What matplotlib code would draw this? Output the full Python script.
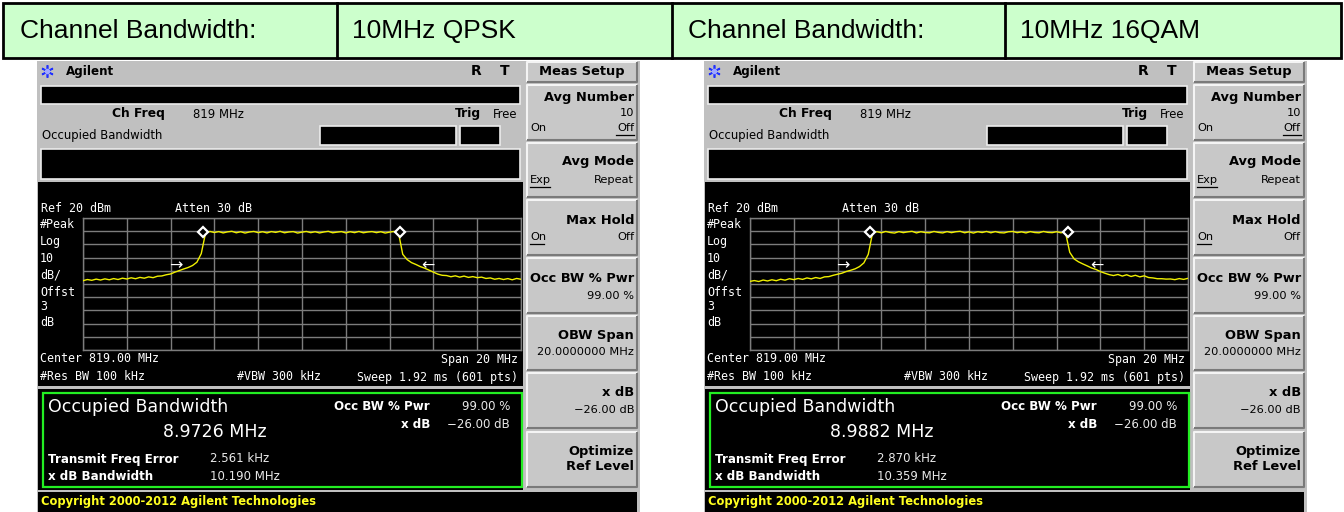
import matplotlib
matplotlib.use('Agg')
import matplotlib.pyplot as plt
from matplotlib.patches import Rectangle
import numpy as np

# ---------------- data ----------------
header_labels = ["Channel Bandwidth:", "Channel Bandwidth:"]
header_values = ["10MHz QPSK", "10MHz 16QAM"]
obw_values = ["8.9726 MHz", "8.9882 MHz"]
freq_errors = ["2.561 kHz", "2.870 kHz"]
xdb_bandwidths = ["10.190 MHz", "10.359 MHz"]

center_mhz = 819.0
span_mhz = 20.0
ref_level = 20
db_per_div = 10

# sweep frequencies (MHz), 0.2 MHz spacing
freqs = [809.0 + 0.2 * i for i in range(101)]

trace_qpsk = [
    -27.5, -26.6, -27.2, -26.3, -27.0, -26.1, -26.8, -25.9, -26.6, -25.6,
    -26.2, -25.3, -26.0, -25.0, -25.6, -24.6, -25.2, -24.1, -23.9, -23.0,
    -22.4, -21.0, -19.8, -18.6, -17.5, -16.0, -13.5, -7.0, 9.0, 9.8,
    9.0, 9.7, 8.7, 9.5, 9.9, 8.8, 9.6, 8.6, 9.4, 9.8,
    8.9, 9.6, 8.7, 9.7, 9.1, 9.9, 8.8, 9.4, 9.7, 8.6,
    9.3, 9.8, 8.9, 9.6, 8.7, 9.4, 9.9, 8.8, 9.3, 9.7,
    8.7, 9.6, 8.9, 9.8, 8.8, 9.4, 9.7, 8.9, 9.6, 8.6,
    9.3, 9.8, 9.3, -7.5, -11.5, -13.8, -15.2, -16.8, -18.0, -19.5,
    -21.0, -22.5, -23.4, -23.6, -24.5, -23.8, -24.8, -24.0, -25.0, -24.4,
    -25.2, -24.8, -25.8, -25.4, -26.4, -25.8, -26.6, -25.9, -26.8, -25.8,
    -26.4,
]
trace_16qam = [
    -28.0, -27.4, -28.1, -27.0, -27.7, -26.8, -27.5, -26.4, -27.1, -26.0,
    -26.7, -25.8, -26.5, -25.4, -26.1, -25.1, -25.8, -24.6, -24.4, -23.4,
    -22.6, -21.8, -20.5, -19.6, -18.5, -16.8, -14.0, -7.5, 9.0, 9.6,
    8.8, 9.8, 9.0, 8.6, 9.7, 8.9, 9.5, 9.9, 8.7, 9.6,
    9.0, 8.8, 9.8, 9.1, 8.7, 9.7, 8.9, 9.6, 9.9, 8.8,
    9.5, 8.6, 9.6, 9.0, 9.8, 8.8, 9.7, 8.9, 8.7, 9.6,
    9.8, 8.9, 9.5, 8.7, 9.7, 9.0, 8.8, 9.8, 9.1, 8.9,
    9.6, 8.8, 9.5, -6.0, -11.0, -13.2, -14.8, -16.3, -17.9, -19.0,
    -20.6, -21.8, -22.9, -23.6, -22.8, -24.0, -23.0, -24.3, -23.4, -24.6,
    -23.8, -25.1, -25.4, -26.0, -26.0, -26.3, -26.2, -26.7, -25.9, -26.5,
    -25.7,
]
traces = [trace_qpsk, trace_16qam]
marker_freqs = [[814.48, 823.47], [814.49, 823.52]]
marker_level = 9.5
arrow_freqs = [[813.25, 824.75], [813.25, 824.85]]
arrow_level = -16.0

# ---------------- figure ----------------
W, H = 1344, 512
fig = plt.figure(figsize=(W / 100, H / 100), dpi=100)
fig.patch.set_facecolor('white')
ax = fig.add_axes([0, 0, 1, 1])
ax.set_xlim(0, W)
ax.set_ylim(H, 0)
ax.axis('off')

GRAY = '#c0c0c0'
BTN = '#c8c8c8'


def rect(x0, y0, x1, y1, fc, ec='none', lw=0.0, z=1):
    ax.add_patch(Rectangle((x0, y0), x1 - x0, y1 - y0, facecolor=fc,
                           edgecolor=ec, linewidth=lw, zorder=z))


def txt(x, y, s, size=8.4, color='black', ha='left', weight='normal',
        family='DejaVu Sans', z=6):
    ax.text(x, y, s, fontsize=size, color=color, ha=ha, va='center',
            fontweight=weight, family=family, zorder=z)


def bevel(x0, y0, x1, y1, z=2):
    rect(x0, y0, x1, y1, BTN, z=z)
    ax.plot([x0, x0, x1], [y1, y0, y0], color='#f4f4f4', lw=1.5, zorder=z + 0.1,
            solid_capstyle='butt')
    ax.plot([x0, x1, x1], [y1, y1, y0], color='#7a7a7a', lw=1.5, zorder=z + 0.1,
            solid_capstyle='butt')


def uline(x0, x1, y):
    ax.plot([x0, x1], [y, y], color='black', lw=0.9, zorder=6)


# ---------------- header table ----------------
rect(3, 3, 1341, 58, '#ccffcc', ec='black', lw=2.0, z=2)
for xv in [337, 672, 1005]:
    ax.plot([xv, xv], [3, 58], color='black', lw=2.0, zorder=3)
hx = [(20, 352), (688, 1020)]
for k in range(2):
    txt(hx[k][0], 31, header_labels[k], size=19, family='Liberation Sans')
    txt(hx[k][1], 31, header_values[k], size=19, family='Liberation Sans')

MONO = 'DejaVu Sans Mono'

# ---------------- analyzer panels ----------------
for k, ox in enumerate([0, 667]):
    X = lambda v: v + ox
    rect(X(37), 61, X(640), 512, GRAY, z=1)
    # title bar
    ax.plot([X(47)], [71], marker=(6, 2, 0), color='#2030ff', ms=9, mew=1.2, zorder=6)
    ax.plot([X(47)], [71], marker='o', color='#a0a8ff', ms=3, zorder=6)
    txt(X(66), 72, 'Agilent', size=8.6, weight='bold')
    txt(X(476), 71, 'R', size=10, weight='bold', ha='center')
    txt(X(505), 71, 'T', size=10, weight='bold', ha='center')
    bevel(X(527), 62, X(637), 82)
    txt(X(582), 72, 'Meas Setup', size=9.4, weight='bold', ha='center')

    # upper info area
    rect(X(41), 86, X(520), 104, 'black', ec='#ececec', lw=1.2, z=2)
    txt(X(112), 114, 'Ch Freq', size=8.8, weight='bold')
    txt(X(193), 114, '819 MHz', size=8.4)
    txt(X(455), 114, 'Trig', size=8.8, weight='bold')
    txt(X(493), 114, 'Free', size=8.4)
    txt(X(42), 136, 'Occupied Bandwidth', size=8.4)
    rect(X(320), 126, X(456), 145, 'black', ec='#ececec', lw=1.2, z=2)
    rect(X(460), 126, X(500), 145, 'black', ec='#ececec', lw=1.2, z=2)
    rect(X(41), 149, X(520), 179, 'black', ec='#ececec', lw=1.2, z=2)

    # spectrum screen
    rect(X(38), 182, X(523), 386, 'black', z=2)
    txt(X(41), 209, 'Ref 20 dBm', size=8.4, color='white', family=MONO)
    txt(X(175), 209, 'Atten 30 dB', size=8.4, color='white', family=MONO)
    for lab, yy in [('#Peak', 224), ('Log', 241), ('10', 258), ('dB/', 275),
                    ('Offst', 292), ('3', 307), ('dB', 322)]:
        txt(X(40), yy, lab, size=8.4, color='white', family=MONO)
    txt(X(40), 359, 'Center 819.00 MHz', size=8.4, color='white', family=MONO)
    txt(X(40), 377, '#Res BW 100 kHz', size=8.4, color='white', family=MONO)
    txt(X(237), 377, '#VBW 300 kHz', size=8.4, color='white', family=MONO)
    txt(X(518), 359, 'Span 20 MHz', size=8.4, color='white', family=MONO, ha='right')
    txt(X(518), 377, 'Sweep 1.92 ms (601 pts)', size=8.4, color='white', family=MONO, ha='right')

    # result box
    rect(X(38), 389, X(523), 490, 'black', z=2)
    rect(X(42.5), 393, X(521.5), 486.5, 'black', ec='#22ee22', lw=1.6, z=3)
    txt(X(48), 407, 'Occupied Bandwidth', size=12.5, color='white')
    txt(X(163), 432, obw_values[k], size=12.5, color='white')
    txt(X(48), 459, 'Transmit Freq Error', size=8.6, color='white', weight='bold')
    txt(X(48), 476, 'x dB Bandwidth', size=8.6, color='white', weight='bold')
    txt(X(210), 459, freq_errors[k], size=8.5, color='#e8e8e8')
    txt(X(210), 476, xdb_bandwidths[k], size=8.5, color='#e8e8e8')
    txt(X(430), 407, 'Occ BW % Pwr', size=8.6, color='white', weight='bold', ha='right')
    txt(X(510), 407, '99.00 %', size=8.5, color='#e8e8e8', ha='right')
    txt(X(430), 425, 'x dB', size=8.6, color='white', weight='bold', ha='right')
    txt(X(510), 425, '\u221226.00 dB', size=8.5, color='#e8e8e8', ha='right')

    # copyright bar
    rect(X(38), 492, X(637), 512, 'black', z=2)
    txt(X(41), 502, 'Copyright 2000-2012 Agilent Technologies', size=8.3,
        color='#ffff20', weight='bold')

    # soft keys
    btn_y = [(85, 140), (143, 197), (200, 255), (258, 313), (316, 370), (373, 428), (432, 487)]
    for (y0, y1) in btn_y:
        bevel(X(527), y0, X(637), y1)
    R = X(634)
    L = X(530)
    txt(R, 97, 'Avg Number', size=9.4, weight='bold', ha='right')
    txt(R, 113, '10', size=8.2, ha='right')
    txt(L, 128, 'On', size=8.2)
    txt(R, 128, 'Off', size=8.2, ha='right')
    uline(X(616), X(634), 135)
    txt(R, 162, 'Avg Mode', size=9.4, weight='bold', ha='right')
    txt(L, 180, 'Exp', size=8.2)
    uline(X(530), X(550), 187)
    txt(R, 180, 'Repeat', size=8.2, ha='right')
    txt(R, 220, 'Max Hold', size=9.4, weight='bold', ha='right')
    txt(L, 237, 'On', size=8.2)
    uline(X(530), X(544), 244)
    txt(R, 237, 'Off', size=8.2, ha='right')
    txt(R, 278, 'Occ BW % Pwr', size=9.4, weight='bold', ha='right')
    txt(R, 296, '99.00 %', size=8.2, ha='right')
    txt(R, 336, 'OBW Span', size=9.4, weight='bold', ha='right')
    txt(R, 352, '20.0000000 MHz', size=8.2, ha='right')
    txt(R, 393, 'x dB', size=9.4, weight='bold', ha='right')
    txt(R, 410, '\u221226.00 dB', size=8.2, ha='right')
    txt(R, 451, 'Optimize', size=9.4, weight='bold', ha='right')
    txt(R, 467, 'Ref Level', size=9.4, weight='bold', ha='right')

    # spectrum graticule axes
    gx0, gx1, gy0, gy1 = X(83), X(521), 218, 350
    sa = fig.add_axes([gx0 / W, 1 - gy1 / H, (gx1 - gx0) / W, (gy1 - gy0) / H])
    sa.set_facecolor('black')
    fmin = center_mhz - span_mhz / 2
    fmax = center_mhz + span_mhz / 2
    sa.set_xlim(fmin, fmax)
    sa.set_ylim(ref_level - 10 * db_per_div, ref_level)
    sa.set_xticks(np.linspace(fmin, fmax, 11))
    sa.set_yticks(np.arange(ref_level - 10 * db_per_div, ref_level + 1, db_per_div))
    sa.grid(True, color='#7c7c7c', lw=1.0)
    sa.tick_params(length=0, labelbottom=False, labelleft=False)
    for sp in sa.spines.values():
        sp.set_color('#7c7c7c')
        sp.set_linewidth(1.0)
    sa.plot(freqs, traces[k], color='#f0f000', lw=1.0, zorder=3)
    sa.plot(marker_freqs[k], [marker_level] * 2, linestyle='none', marker='D', ms=5,
            mfc='black', mec='white', mew=1.6, zorder=4)
    sa.text(arrow_freqs[k][0], arrow_level, '\u2192', color='white', fontsize=11.5,
            ha='center', va='center', zorder=4)
    sa.text(arrow_freqs[k][1], arrow_level, '\u2190', color='white', fontsize=11.5,
            ha='center', va='center', zorder=4)

fig.savefig('out.png', dpi=100, facecolor='white')
